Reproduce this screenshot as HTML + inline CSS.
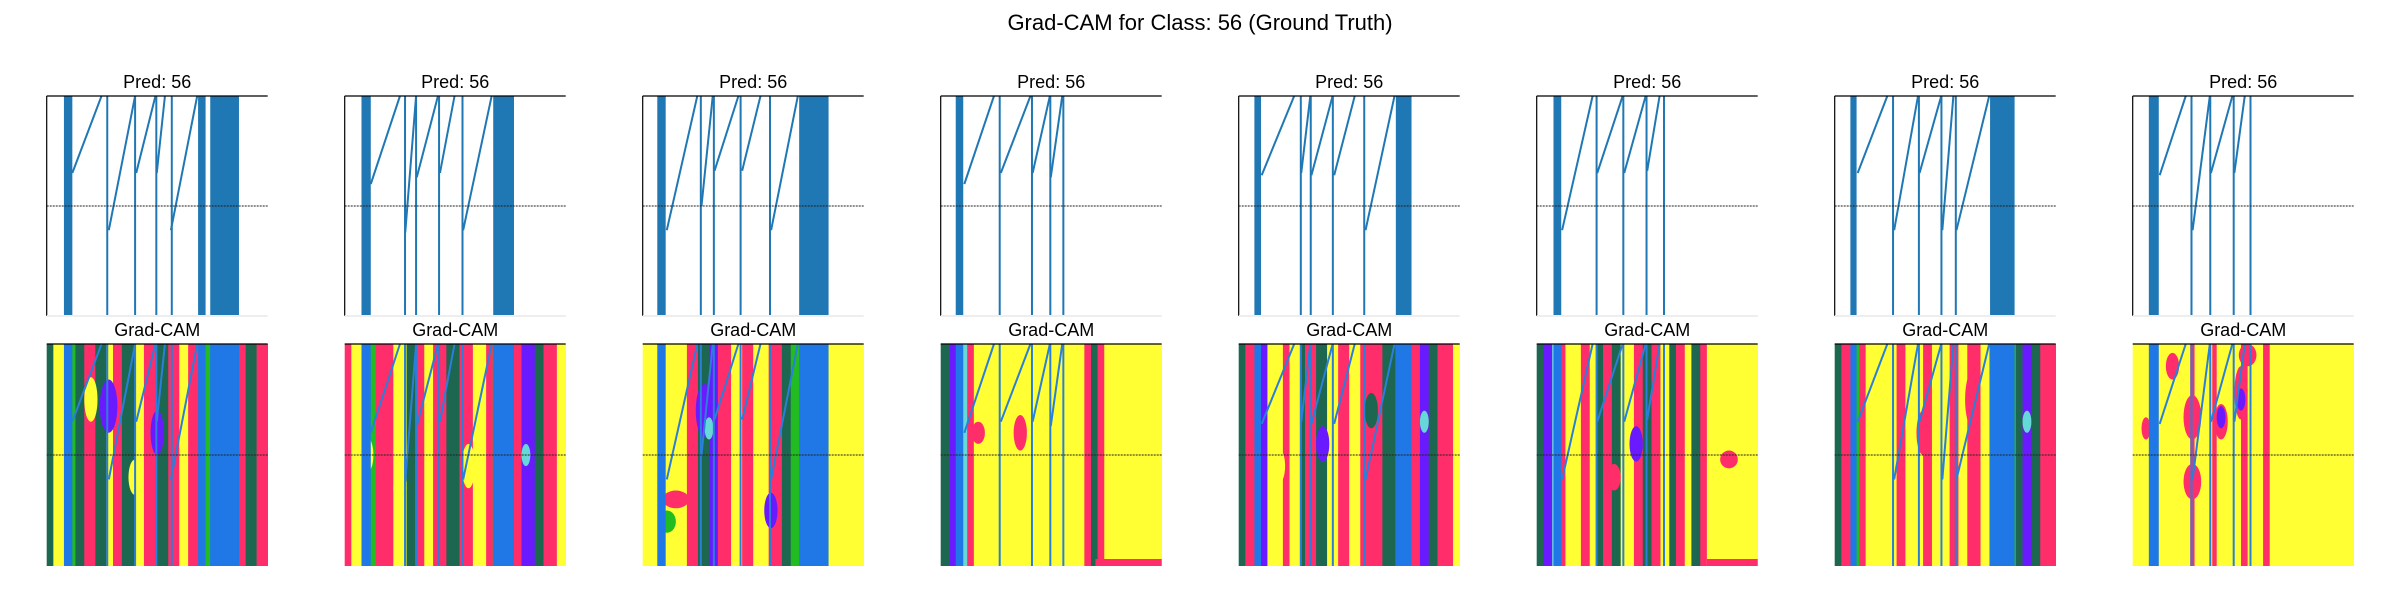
<!DOCTYPE html>
<html><head><meta charset="utf-8">
<style>
html,body{margin:0;padding:0;background:#fff;}
svg{display:block;font-family:"Liberation Sans","DejaVu Sans",sans-serif;}
</style></head>
<body>
<svg id="fig" width="2400" height="600" viewBox="0 0 2400 600" xmlns="http://www.w3.org/2000/svg">
<text x="1200" y="30" text-anchor="middle" font-size="22" fill="#000">Grad-CAM for Class: 56 (Ground Truth)</text>
</svg>
<script>
// Data per panel: x in percent of axis width, y in 0..1 (1 = top)
const predLabels = ["56","56","56","56","56","56","56","56"];
const panelBars = [
 [[7.8,11.6],[68.5,71.9],[74.0,87.0]],
 [[7.6,11.8],[67.2,76.6]],
 [[6.6,10.4],[70.8,84.1]],
 [[6.8,10.2]],
 [[7.1,10.1],[71.1,78.2]],
 [[7.6,11.1]],
 [[7.1,9.9],[70.3,81.4]],
 [[7.3,11.8]]
];
const panelVerticals = [
 [27.4,40.0,49.6,56.6],
 [27.3,32.3,42.7,53.3],
 [26.3,32.2,44.3,57.6],
 [26.7,41.3,49.6,55.5],
 [28.1,32.6,42.6,56.8],
 [27.1,39.2,49.7,57.6],
 [26.4,38.1,48.3,54.8],
 [26.6,35.1,45.7,53.3]
];
const panelDiagonals = [
 [[11.6,0.65,24.8,1],[28.1,0.39,40.0,1],[40.5,0.65,49.2,1],[49.8,0.65,53.5,1],[56.2,0.39,68.1,1]],
 [[11.8,0.60,25.0,1],[27.4,0.38,32.3,1],[32.6,0.63,42.2,1],[43.1,0.65,49.7,1],[53.6,0.39,66.5,1]],
 [[10.9,0.39,24.7,1],[26.6,0.50,31.7,1],[32.5,0.66,43.3,1],[45.0,0.66,53.3,1],[58.1,0.39,70.2,1]],
 [[10.7,0.60,24.1,1],[27.2,0.65,40.6,1],[41.6,0.65,49.4,1],[49.8,0.63,55.0,1]],
 [[10.4,0.64,25.1,1],[28.3,0.65,32.4,1],[32.9,0.64,42.5,1],[43.2,0.64,52.5,1],[57.4,0.39,70.5,1]],
 [[11.5,0.39,25.3,1],[27.4,0.65,38.9,1],[39.6,0.65,49.3,1],[50.0,0.66,55.6,1]],
 [[10.4,0.65,23.8,1],[26.9,0.39,37.7,1],[38.4,0.65,48.2,1],[48.7,0.39,53.7,1],[55.1,0.39,69.9,1]],
 [[12.2,0.64,24.0,1],[27.1,0.39,34.9,1],[35.4,0.65,45.1,1],[46.0,0.65,50.7,1]]
];
// heatmap stripes: [x0, x1, colour key]
const camStripes = [
 [[0,3,"g"],[3,8,"y"],[8,13,"G"],[13,17,"g"],[17,22,"r"],[22,27,"g"],[27,30,"y"],[30,34,"r"],[34,40,"g"],[40,44,"y"],[44,50,"r"],[50,55,"g"],[55,60,"r"],[60,64,"y"],[64,69,"r"],[69,74,"G"],[74,78,"b"],[78,83,"G"],[83,87,"b"],[87,90,"r"],[90,95,"g"],[95,100,"r"]],
 [[0,3,"r"],[3,10,"y"],[10,14,"G"],[14,22,"r"],[22,28,"y"],[28,32,"g"],[32,36,"r"],[36,40,"y"],[40,46,"r"],[46,52,"g"],[52,58,"r"],[58,64,"y"],[64,67,"r"],[67,73,"G"],[73,76,"b"],[76,80,"r"],[80,86,"p"],[86,90,"g"],[90,96,"r"],[96,100,"y"]],
 [[0,20,"y"],[20,25,"r"],[25,30,"g"],[30,34,"p"],[34,40,"r"],[40,45,"y"],[45,50,"r"],[50,57,"y"],[57,63,"r"],[63,67,"g"],[67,71,"G"],[71,100,"y"]],
 [[0,4,"g"],[4,8,"p"],[8,12,"c"],[12,15,"r"],[15,65,"y"],[65,68,"r"],[68,71,"g"],[71,74,"r"],[74,100,"y"]],
 [[0,3,"g"],[3,8,"r"],[8,10,"G"],[10,13,"p"],[13,20,"y"],[20,23,"r"],[23,28,"y"],[28,30,"g"],[30,35,"r"],[35,40,"g"],[40,45,"y"],[45,50,"r"],[50,55,"y"],[55,65,"r"],[65,71,"g"],[71,78,"G"],[78,82,"r"],[82,86,"p"],[86,90,"g"],[90,97,"r"],[97,100,"y"]],
 [[0,3,"g"],[3,7,"p"],[7,11,"c"],[11,13,"r"],[13,20,"y"],[20,24,"r"],[24,27,"y"],[27,30,"g"],[30,34,"r"],[34,38,"g"],[38,44,"y"],[44,48,"r"],[48,52,"g"],[52,56,"r"],[56,60,"y"],[60,63,"g"],[63,67,"r"],[67,70,"y"],[70,74,"g"],[74,77,"r"],[77,100,"y"]],
 [[0,3,"g"],[3,8,"r"],[8,11,"G"],[11,14,"r"],[14,28,"y"],[28,32,"r"],[32,40,"y"],[40,44,"r"],[44,52,"y"],[52,56,"r"],[56,60,"y"],[60,66,"r"],[66,70,"y"],[70,82,"G"],[82,85,"g"],[85,89,"p"],[89,93,"g"],[93,100,"r"]],
 [[0,26,"y"],[26,28,"r"],[28,36,"y"],[36,38,"r"],[38,49,"y"],[49,52,"r"],[52,59,"y"],[59,62,"r"],[62,100,"y"]]
];
// heatmap blobs: [x%, y(0..1), rx%, ry(0..1), colour key]
const camBlobs = [
 [[28,0.72,4,0.12,"p"],[50,0.6,3,0.1,"p"],[80,0.55,3,0.08,"b"],[20,0.75,3,0.1,"y"],[40,0.4,3,0.08,"y"]],
 [[10,0.5,3,0.08,"y"],[25,0.35,3,0.08,"y"],[56,0.45,3,0.1,"y"],[82,0.5,2,0.05,"c"],[70,0.6,2,0.1,"c"]],
 [[28,0.7,4,0.12,"p"],[30,0.62,2,0.05,"c"],[58,0.25,3,0.08,"p"],[11,0.2,4,0.05,"G"],[15,0.3,6,0.04,"r"]],
 [[36,0.6,3,0.08,"r"],[17,0.6,3,0.05,"r"]],
 [[18,0.45,3,0.08,"y"],[38,0.55,3,0.08,"p"],[60,0.7,3,0.08,"g"],[84,0.65,2,0.05,"c"]],
 [[45,0.55,3,0.08,"p"],[35,0.4,3,0.06,"r"],[87,0.48,4,0.04,"r"]],
 [[40,0.6,3,0.1,"r"],[75,0.7,4,0.12,"c"],[87,0.65,2,0.05,"c"],[62,0.75,3,0.12,"r"]],
 [[18,0.9,3,0.06,"r"],[27,0.67,4,0.1,"r"],[40,0.65,3,0.08,"r"],[49,0.78,3,0.12,"r"],[52,0.95,4,0.05,"r"],[27,0.38,4,0.08,"r"],[6,0.62,2,0.05,"r"],[40,0.67,2,0.05,"p"],[49,0.75,2,0.05,"p"]]
];
// bottom border strips: [x0, x1, colour key]
const camBottomStrips = [[],[],[],[[70,100,"r"]],[],[[77,100,"r"]],[],[]];
const palette = {y:"#ffff33",r:"#ff2d6a",g:"#1d6650",G:"#22bb22",p:"#6a1aff",c:"#66d8d8",b:"#1f78e6"};

const NS="http://www.w3.org/2000/svg";
const svg=document.getElementById("fig");
const AX0=46.7, STEP=298, AW=221;
const TOP_Y0=96, TOP_Y1=316, CAM_Y0=344, CAM_Y1=566;
function mk(tag,attrs){const e=document.createElementNS(NS,tag);for(const k in attrs)e.setAttribute(k,attrs[k]);return e;}
function xs(k,p){return AX0+k*STEP+p/100*AW;}
function ys(v,y0,y1){return y1-v*(y1-y0);}

function drawSignal(g,k,y0,y1,col,barCol){
  panelBars[k].forEach(b=>{
    const r=mk("rect",{x:xs(k,b[0]),y:y0,width:xs(k,b[1])-xs(k,b[0]),height:y1-y0,fill:barCol});
    
    
    g.appendChild(r);
  });
  panelVerticals[k].forEach(v=>{
    const l=mk("line",{x1:xs(k,v),x2:xs(k,v),y1:y0,y2:y1,stroke:col,"stroke-width":2});
    
    
    g.appendChild(l);
  });
  panelDiagonals[k].forEach(d=>{
    const l=mk("line",{x1:xs(k,d[0]),y1:ys(d[1],y0,y1),x2:xs(k,d[2]),y2:ys(d[3],y0,y1),stroke:col,"stroke-width":2});
    
    
    g.appendChild(l);
  });
}

for(let k=0;k<8;k++){
  const g=mk("g",{});
  
  
  svg.appendChild(g);
  const t=mk("text",{x:xs(k,50),y:88,"text-anchor":"middle","font-size":18,fill:"#000"});
  t.textContent="Pred: "+predLabels[k];
  
  
  g.appendChild(t);
  drawSignal(g,k,TOP_Y0,TOP_Y1,"#1f77b4","#1f77b4");
  const dl=mk("line",{x1:xs(k,0),x2:xs(k,100),y1:(TOP_Y0+TOP_Y1)/2,y2:(TOP_Y0+TOP_Y1)/2,stroke:"#222","stroke-width":1,"stroke-dasharray":"2,1"});
  
  
  g.appendChild(dl);
  const sp=mk("line",{x1:xs(k,0),x2:xs(k,0),y1:TOP_Y0,y2:TOP_Y1,stroke:"#000","stroke-width":1.2});
  
  
  g.appendChild(sp);
  const tp=mk("line",{x1:xs(k,0),x2:xs(k,100),y1:TOP_Y0,y2:TOP_Y0,stroke:"#000","stroke-width":1.2});
  
  
  g.appendChild(tp);
  const bt=mk("line",{x1:xs(k,0),x2:xs(k,100),y1:TOP_Y1,y2:TOP_Y1,stroke:"#eee","stroke-width":2});
  
  
  g.appendChild(bt);

  const c=mk("g",{});
  
  
  svg.appendChild(c);
  const ct=mk("text",{x:xs(k,50),y:336,"text-anchor":"middle","font-size":18,fill:"#000"});
  ct.textContent="Grad-CAM";
  
  
  c.appendChild(ct);
  camStripes[k].forEach(s=>{
    const r=mk("rect",{x:xs(k,s[0]),y:CAM_Y0,width:xs(k,s[1])-xs(k,s[0])+0.3,height:CAM_Y1-CAM_Y0,fill:palette[s[2]]});
    
    
    c.appendChild(r);
  });
  camBlobs[k].forEach(b=>{
    const e=mk("ellipse",{cx:xs(k,b[0]),cy:ys(b[1],CAM_Y0,CAM_Y1),rx:b[2]/100*AW,ry:b[3]*(CAM_Y1-CAM_Y0),fill:palette[b[4]]});
    
    
    c.appendChild(e);
  });
  camBottomStrips[k].forEach(s=>{
    const r=mk("rect",{x:xs(k,s[0]),y:CAM_Y1-7,width:xs(k,s[1])-xs(k,s[0]),height:7,fill:palette[s[2]]});
    
    
    c.appendChild(r);
  });
  drawSignal(c,k,CAM_Y0,CAM_Y1,"#2a7fd8","#1f78e6");
  const cl=mk("line",{x1:xs(k,0),x2:xs(k,100),y1:(CAM_Y0+CAM_Y1)/2,y2:(CAM_Y0+CAM_Y1)/2,stroke:"#222","stroke-width":1,"stroke-dasharray":"2,1"});
  
  
  c.appendChild(cl);
  const ctp=mk("line",{x1:xs(k,0),x2:xs(k,100),y1:CAM_Y0,y2:CAM_Y0,stroke:"#000","stroke-width":1.2});
  
  
  c.appendChild(ctp);
}
</script>
</body></html>
